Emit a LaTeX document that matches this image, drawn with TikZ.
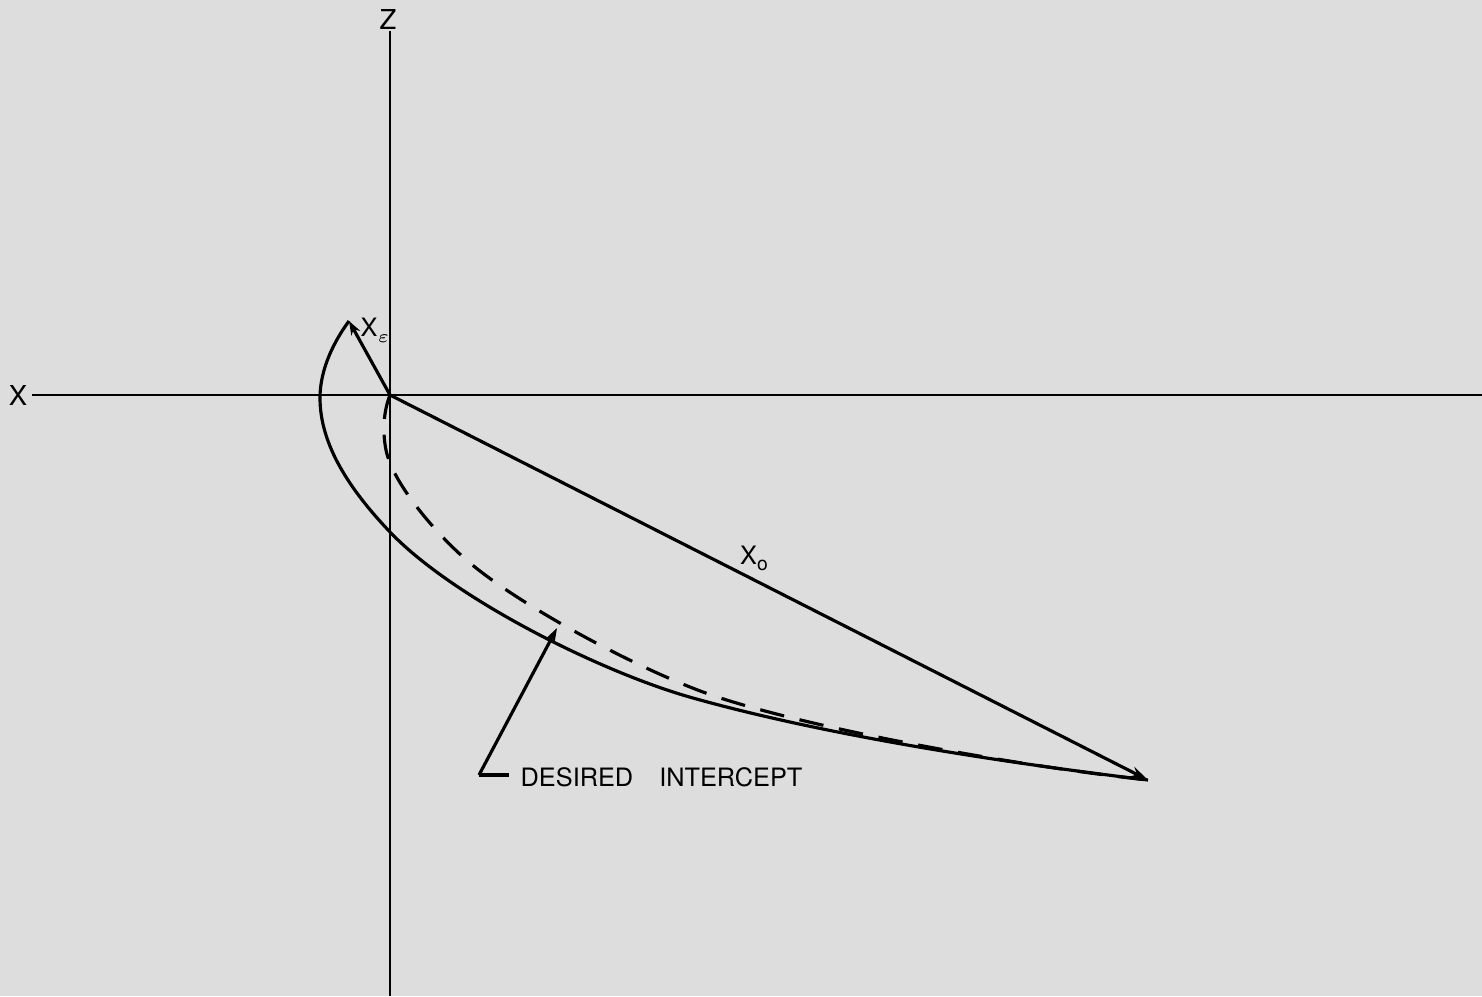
\documentclass[tikz,border=0pt]{standalone}
\usepackage{fontspec}
\setsansfont{TeX Gyre Heros}
\usetikzlibrary{arrows.meta}
\definecolor{paper}{RGB}{221,221,221}

\begin{document}
\begin{tikzpicture}[x=0.01cm, y=-0.01cm, >={Stealth[length=1.8mm,width=1.1mm]},
  ax/.style={line width=0.7pt},
  trk/.style={line width=0.9pt},
  lbl/.style={font=\sffamily\fontsize{7.2}{8.6}\selectfont, inner sep=0pt}]
\fill[paper] (0,0) rectangle (1482,996);
\useasboundingbox (0,0) rectangle (1482,996);
% axes
\coordinate (O) at (390,395);
\coordinate (zt) at (390,31);
\coordinate (zb) at (390,996);
\coordinate (xl0) at (32,395);
\coordinate (xr) at (1482,395);
\node[lbl, font=\sffamily\fontsize{7.8}{9}\selectfont] (zl) at (388,19) {Z};
\node[lbl, font=\sffamily\fontsize{7.8}{9}\selectfont] (xl) at (18,395) {X};
\draw[ax] (zt) -- (zb);
\draw[ax] (xl0) -- (xr);
% end points
\coordinate (E) at (349,321);
\coordinate (T) at (1148,780);
\coordinate (tp) at (557,628);
\coordinate (cn) at (479,775);
% vectors
\draw[trk, ->, >={Stealth[length=1.4mm,width=1mm]}] (O) -- (E);
\node[lbl] (xe) at (375,330) {X\raisebox{-0.45ex}{\fontsize{5.5}{6}\selectfont$\varepsilon$}};
\draw[trk, ->] (O) -- (T);
\node[lbl] (xo) at (754,558) {X\raisebox{-0.45ex}{\fontsize{5.5}{6}\selectfont o}};
% actual path
\draw[trk] (E) .. controls (335,340) and (320,368) .. (320,398)
  .. controls (320,445) and (350,490) .. (390,532)
  .. controls (453,598) and (600,672) .. (693,698)
  .. controls (850,742) and (1050,768) .. (T);
% desired path
\draw[trk, dash pattern=on 7pt off 4.5pt] (O) .. controls (384,410) and (382,430) .. (386,450)
  .. controls (393,485) and (440,538) .. (470,563)
  .. controls (520,605) and (630,665) .. (703,692)
  .. controls (790,724) and (1000,764) .. (T);
% label
\node[lbl, anchor=west] (dl) at (520,777) {DESIRED\hspace{2.6mm}INTERCEPT};
\draw[trk] (cn) -- ++(30,0);
\draw[trk, ->, >={Stealth[length=1.5mm,width=1mm]}] (cn) -- (tp);
\end{tikzpicture}
\end{document}
